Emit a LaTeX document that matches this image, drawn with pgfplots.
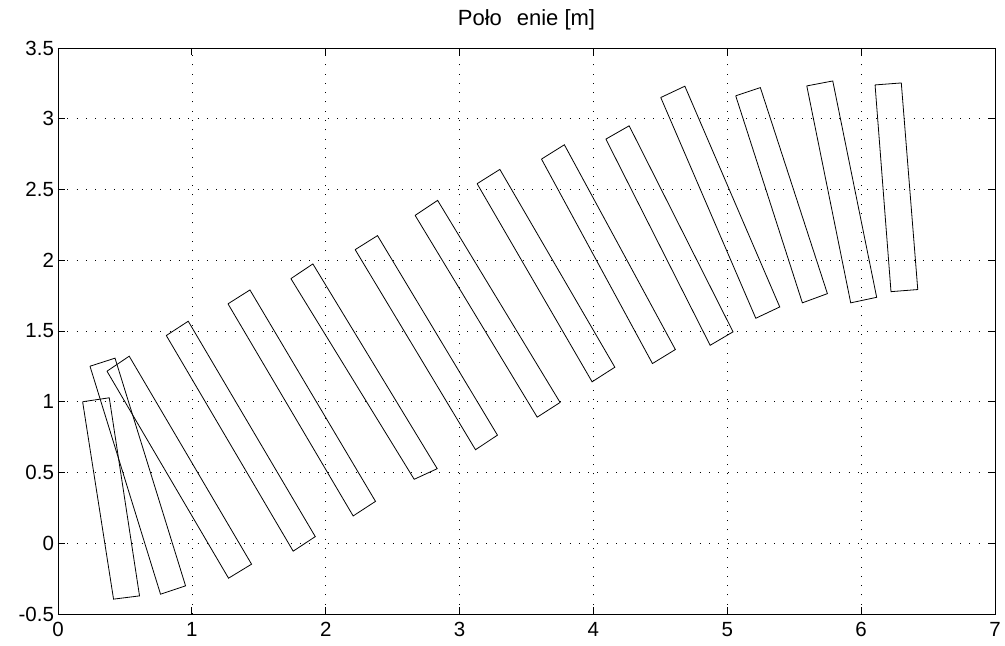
\documentclass[border=0pt]{standalone}
\usepackage{pgfplots}
\pgfplotsset{compat=1.18}
\usepackage{fontspec}
\setmainfont{Liberation Sans}
\pgfplotsset{rect/.style={black, solid, mark=none, line width=0.8bp}}
\begin{document}
\begin{tikzpicture}
\useasboundingbox (-58bp,-32bp) rectangle (947bp,614bp);
\begin{axis}[
  at={(0,0)}, anchor=south west,
  width=937bp, height=566bp, scale only axis,
  xmin=0, xmax=7, ymin=-0.5, ymax=3.5,
  xtick={0,1,2,3,4,5,6,7},
  xticklabels={0,1,2,3,4,5,6,7},
  ytick={-0.5,0,0.5,1,1.5,2,2.5,3,3.5},
  yticklabels={-0.5,0,0.5,1,1.5,2,2.5,3,3.5},
  grid=major,
  grid style={black, line width=0.7bp, dash pattern=on 1bp off 8.3bp},
  axis line style={black, line width=0.8bp},
  major tick length=7bp,
  tick style={black, line width=0.8bp},
  tick label style={font=\fontsize{20.5bp}{24bp}\selectfont},
  yticklabel style={xshift=-0.5bp},
  xticklabel style={yshift=-5bp},
  title={Poło\ \hspace{0.4em}enie [m]},
  title style={font=\fontsize{22bp}{26bp}\selectfont, at={(0.5,1)}, anchor=base, yshift=17bp},
]
\addplot[rect] coordinates {(0.184,1.000) (0.383,1.028) (0.609,-0.372) (0.415,-0.395) (0.184,1.000)};
\addplot[rect] coordinates {(0.239,1.251) (0.426,1.308) (0.953,-0.301) (0.766,-0.360) (0.239,1.251)};
\addplot[rect] coordinates {(0.366,1.216) (0.532,1.322) (1.446,-0.148) (1.274,-0.247) (0.366,1.216)};
\addplot[rect] coordinates {(0.809,1.468) (0.973,1.569) (1.922,0.047) (1.757,-0.056) (0.809,1.468)};
\addplot[rect] coordinates {(1.270,1.692) (1.434,1.790) (2.372,0.296) (2.205,0.193) (1.270,1.692)};
\addplot[rect] coordinates {(1.740,1.870) (1.904,1.974) (2.833,0.527) (2.661,0.452) (1.740,1.870)};
\addplot[rect] coordinates {(2.220,2.075) (2.387,2.174) (3.283,0.764) (3.119,0.661) (2.220,2.075)};
\addplot[rect] coordinates {(2.668,2.317) (2.836,2.423) (3.751,0.995) (3.580,0.891) (2.668,2.317)};
\addplot[rect] coordinates {(3.131,2.541) (3.301,2.642) (4.160,1.244) (3.990,1.141) (3.131,2.541)};
\addplot[rect] coordinates {(3.612,2.715) (3.783,2.816) (4.612,1.369) (4.441,1.270) (3.612,2.715)};
\addplot[rect] coordinates {(4.093,2.856) (4.267,2.950) (5.043,1.494) (4.872,1.399) (4.093,2.856)};
\addplot[rect] coordinates {(4.503,3.150) (4.683,3.230) (5.392,1.670) (5.213,1.590) (4.503,3.150)};
\addplot[rect] coordinates {(5.063,3.162) (5.247,3.220) (5.748,1.764) (5.561,1.699) (5.063,3.162)};
\addplot[rect] coordinates {(5.594,3.232) (5.788,3.267) (6.116,1.738) (5.922,1.699) (5.594,3.232)};
\addplot[rect] coordinates {(6.104,3.239) (6.300,3.253) (6.423,1.793) (6.223,1.778) (6.104,3.239)};
\end{axis}
\end{tikzpicture}
\end{document}
